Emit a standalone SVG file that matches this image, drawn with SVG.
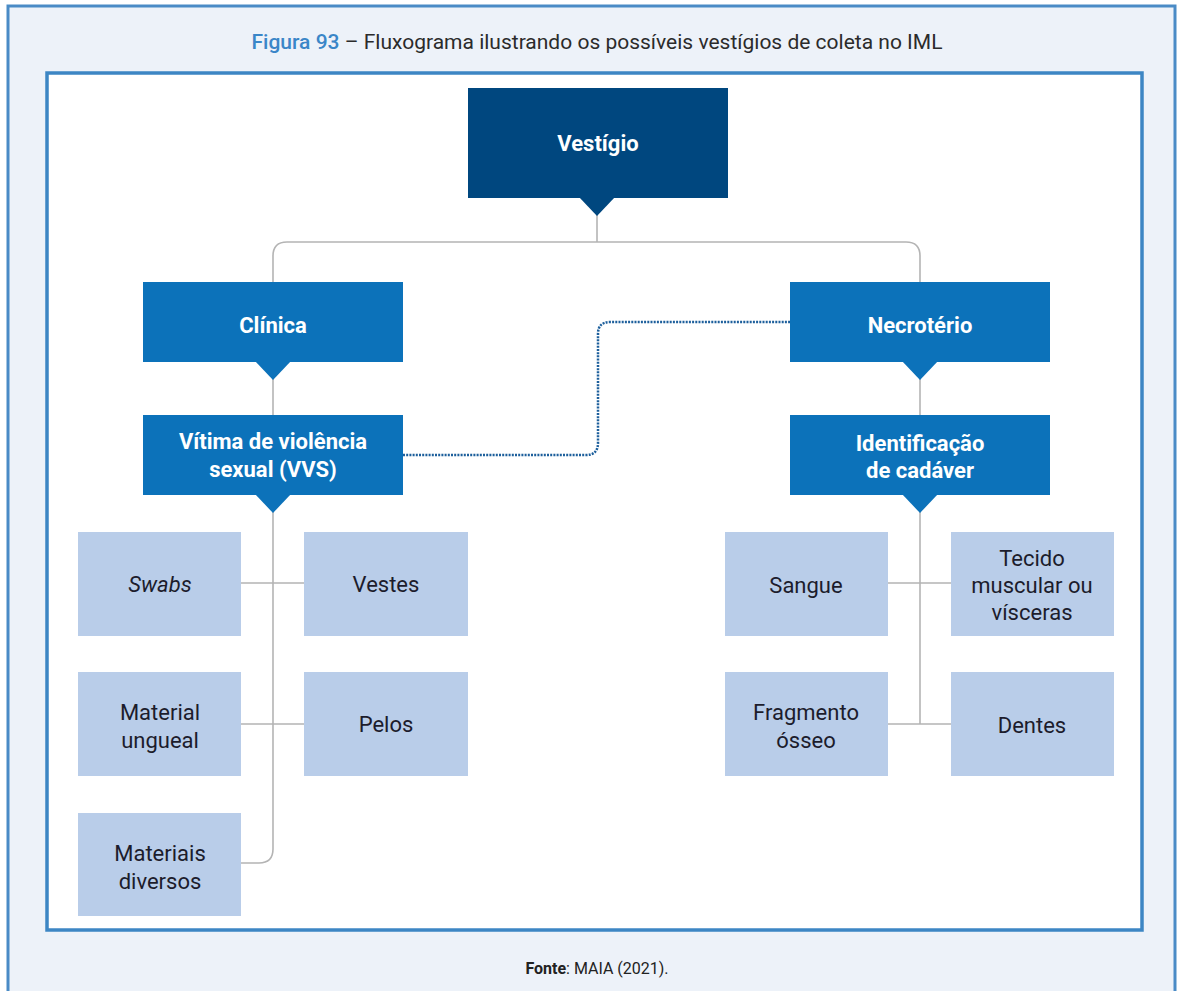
<svg xmlns="http://www.w3.org/2000/svg" width="1185" height="991" viewBox="0 0 1185 991">
<style>
.hd{fill:#fff;font-family:Roboto,"Liberation Sans",sans-serif;font-weight:bold;font-size:22px;text-anchor:middle}
.lf{fill:#1c1c2c;font-family:Roboto,"Liberation Sans",sans-serif;font-size:22px;text-anchor:middle}
.leaf{fill:#b9cde9}
.mid{fill:#0c72ba}
.ln{fill:none;stroke:#b4b4b4;stroke-width:1.6}
.dot{fill:none;stroke:#1d5f9c;stroke-width:2.5;stroke-dasharray:2 1.2}
</style>
<rect x="0" y="0" width="1185" height="991" fill="#ffffff"/>
<rect x="8" y="6" width="1167" height="990" fill="#edf2f9" stroke="#4a8bc6" stroke-width="3"/>
<rect x="47" y="73" width="1095" height="857" fill="#ffffff" stroke="#3d86c4" stroke-width="3.5"/>
<text x="597" y="49" text-anchor="middle" font-family="Roboto,'Liberation Sans',sans-serif" font-size="21" fill="#2b2b2b"><tspan fill="#3a86c8" font-weight="500">Figura 93</tspan> – Fluxograma ilustrando os possíveis vestígios de coleta no IML</text>
<text x="597" y="974" text-anchor="middle" font-family="Roboto,'Liberation Sans',sans-serif" font-size="16" fill="#222"><tspan font-weight="bold">Fonte</tspan>: MAIA (2021).</text>
<g id="connectors">
<path class="ln" d="M597 210 V242"/>
<path class="ln" d="M273 282 V256 Q273 242 287 242 H906 Q920 242 920 256 V282"/>
<path class="ln" d="M273 370 V415"/>
<path class="ln" d="M920 370 V415"/>
<path class="ln" d="M273 505 V849 Q273 863 259 863 H241"/>
<path class="ln" d="M241 583 H304 M241 724 H304"/>
<path class="ln" d="M920 505 V724"/>
<path class="ln" d="M888 583 H951 M888 724 H951"/>
<path class="dot" d="M403 455 H586 Q598 455 598 443 V334 Q598 322 610 322 H790"/>
</g>
<g id="vestigio">
<rect x="468" y="88" width="260" height="110" fill="#00477f"/>
<polygon points="579,197 615,197 597,216" fill="#00477f"/>
<text class="hd" x="598" y="151" font-size="23">Vestígio</text>
</g>
<g id="clinica">
<rect class="mid" x="143" y="282" width="260" height="80"/>
<polygon class="mid" points="255,361 291,361 273,380"/>
<text class="hd" x="273" y="333">Clínica</text>
</g>
<g id="necroterio">
<rect class="mid" x="790" y="282" width="260" height="80"/>
<polygon class="mid" points="902,361 938,361 920,380"/>
<text class="hd" x="920" y="333">Necrotério</text>
</g>
<g id="vvs">
<rect class="mid" x="143" y="415" width="260" height="80"/>
<polygon class="mid" points="255,494 291,494 273,513"/>
<text class="hd" x="273" y="449">Vítima de violência</text>
<text class="hd" x="273" y="477">sexual (VVS)</text>
</g>
<g id="identificacao">
<rect class="mid" x="790" y="415" width="260" height="80"/>
<polygon class="mid" points="902,494 938,494 920,513"/>
<text class="hd" x="920" y="451">Identificação</text>
<text class="hd" x="920" y="478">de cadáver</text>
</g>
<g id="swabs">
<rect class="leaf" x="78" y="532" width="163" height="104"/>
<text class="lf" x="160" y="592" font-style="italic">Swabs</text>
</g>
<g id="vestes">
<rect class="leaf" x="304" y="532" width="164" height="104"/>
<text class="lf" x="386" y="592">Vestes</text>
</g>
<g id="material-ungueal">
<rect class="leaf" x="78" y="672" width="163" height="104"/>
<text class="lf" x="160" y="720">Material</text>
<text class="lf" x="160" y="748">ungueal</text>
</g>
<g id="pelos">
<rect class="leaf" x="304" y="672" width="164" height="104"/>
<text class="lf" x="386" y="732">Pelos</text>
</g>
<g id="materiais-diversos">
<rect class="leaf" x="78" y="813" width="163" height="103"/>
<text class="lf" x="160" y="861">Materiais</text>
<text class="lf" x="160" y="889">diversos</text>
</g>
<g id="sangue">
<rect class="leaf" x="725" y="532" width="163" height="104"/>
<text class="lf" x="806" y="593">Sangue</text>
</g>
<g id="tecido">
<rect class="leaf" x="951" y="532" width="163" height="104"/>
<text class="lf" x="1032" y="566">Tecido</text>
<text class="lf" x="1032" y="593">muscular ou</text>
<text class="lf" x="1032" y="620">vísceras</text>
</g>
<g id="fragmento">
<rect class="leaf" x="725" y="672" width="163" height="104"/>
<text class="lf" x="806" y="720">Fragmento</text>
<text class="lf" x="806" y="748">ósseo</text>
</g>
<g id="dentes">
<rect class="leaf" x="951" y="672" width="163" height="104"/>
<text class="lf" x="1032" y="733">Dentes</text>
</g>
</svg>
